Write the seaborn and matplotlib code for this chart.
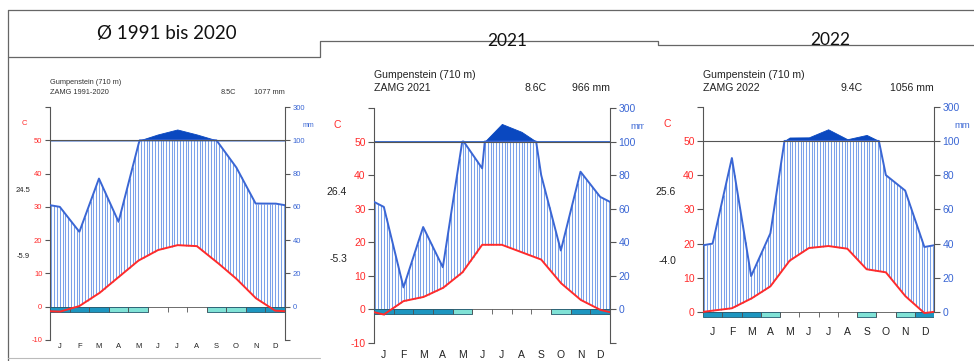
import numpy as np
import pandas as pd
import matplotlib
matplotlib.use("Agg")
import matplotlib.pyplot as plt
import matplotlib.transforms as mtransforms
from matplotlib.lines import Line2D
import seaborn as sns

# --- 設定 ---
OUTPUT_IMG = "out.png"
W, H = 974, 361

MONTHS = ["J", "F", "M", "A", "M", "J", "J", "A", "S", "O", "N", "D"]
MM_TICKS = [0, 20, 40, 60, 80, 100, 300]

STATION = "Gumpenstein (710 m)"
PANEL_TITLES = ["Ø 1991 bis 2020", "2021", "2022"]
SOURCES = ["ZAMG 1991-2020", "ZAMG 2021", "ZAMG 2022"]
MEAN_TEXT = ["8.5C", "8.6C", "9.4C"]
TOTAL_TEXT = ["1077 mm", "966 mm", "1056 mm"]
MAX_WARM = ["24.5", "26.4", "25.6"]
MIN_COLD = ["-5.9", "-5.3", "-4.0"]

# Monatsmittel Temperatur (C)
TEMP_NORM = [-1.5, 0.2, 4.0, 8.9, 13.8, 17.0, 18.5, 18.2, 13.5, 8.5, 2.6, -1.2]
TEMP_2021 = [-1.6, 2.4, 3.6, 6.3, 11.0, 19.2, 19.2, 17.0, 14.8, 7.8, 2.8, -0.2]
TEMP_2022 = [0.4, 1.1, 3.9, 7.5, 15.0, 18.7, 19.3, 18.5, 12.5, 11.6, 4.7, -0.3]

# Monatssummen Niederschlag (mm)
PREC_NORM = [60, 45, 77, 51, 97, 135, 165, 135, 100, 84, 62, 62]
PREC_2021 = [61, 13, 49, 25, 101, 84, 205, 158, 80, 35, 82, 67]
PREC_2022 = [40, 90, 21, 46, 120, 121, 168, 110, 135, 80, 71, 38]

# Frost: 2 = sicher, 1 = wahrscheinlich, 0 = kein Frost
FROST_NORM = [2, 2, 2, 1, 1, 0, 0, 0, 1, 1, 2, 2]
FROST_2021 = [2, 2, 2, 2, 1, 0, 0, 0, 0, 1, 2, 2]
FROST_2022 = [2, 2, 2, 1, 0, 0, 0, 0, 1, 0, 1, 2]

RED = "#ff2b2b"
BLUE = "#3a66d4"
HATCH = "#7ba2ea"
DARK = "#0a48c0"
FROST_COLORS = {0: (0, 0, 0, 0), 1: "#80e2d6", 2: "#1d96c0"}
GRAY = "#555555"


def fx(px):
    return px / W


def fy(py):
    return 1 - py / H


def scale_prec(p):
    # Walter-Lieth: 0-100 mm -> 0-50, darueber 1:20
    p = np.asarray(p, dtype=float)
    return np.where(p <= 100, p / 2, 50 + (p - 100) * 0.05)


def draw_panel(ax, temp, prec, frost, cfg):
    fs = cfg["fs"]
    ymin = cfg["ymin"]

    # Monatsmitten + Jahresumlauf (Dez vor Jan, Jan nach Dez)
    xm = np.arange(-0.5, 13.0)
    t = np.r_[temp[-1], temp, temp[0]]
    p = np.r_[prec[-1], prec, prec[0]]

    xs = np.linspace(0, 12, 721)
    ti = np.interp(xs, xm, t)
    pi = np.interp(xs, xm, p)
    p_line = np.minimum(pi / 2, 50)
    p_top = scale_prec(np.maximum(pi, 100))

    # humide Periode: senkrechte Schraffur
    xh = (np.arange(84) + 0.5) / 7
    th = np.interp(xh, xm, t)
    ph = np.minimum(np.interp(xh, xm, p) / 2, 50)
    m = ph > th
    ax.vlines(xh[m], th[m], ph[m], color=HATCH, lw=0.75, zorder=1)

    # > 100 mm: dunkle Flaeche
    ax.fill_between(xs, 50, p_top, color=DARK, lw=0.6, edgecolor=DARK, zorder=2)

    df = pd.DataFrame({"x": xs, "temp": ti, "prec": p_line})
    sns.lineplot(data=df, x="x", y="prec", ax=ax, color=BLUE, lw=1.4,
                 sort=False, estimator=None, zorder=3)

    ax.axhline(50, color=GRAY, lw=0.8, zorder=4)
    ax.axhline(0, color=GRAY, lw=0.6, zorder=1)

    # Frostbalken
    centres = np.arange(12) + 0.5
    colors = [FROST_COLORS[f] for f in frost]
    edges = ["#235a70" if f else (0, 0, 0, 0) for f in frost]
    ax.bar(centres, -1.5, bottom=0, width=1, color=colors, edgecolor=edges,
           linewidth=0.6, zorder=4)
    ax.vlines(np.arange(1, 12), -1.5, 0, color=GRAY, lw=0.6, zorder=4)

    sns.lineplot(data=df, x="x", y="temp", ax=ax, color=RED, lw=1.4,
                 sort=False, estimator=None, zorder=5)

    ax.set_xlim(0, 12)
    ax.set_ylim(ymin, 60)
    ax.set_xlabel("")
    ax.set_ylabel("")
    ax.set_xticks(centres)
    ax.set_xticklabels(MONTHS, fontsize=fs, color="#222222")
    ax.tick_params(axis="x", length=0, pad=cfg["xpad"])

    lo = 0 if ymin > -10 else -10
    left_ticks = list(range(lo, 51, 10))
    ax.set_yticks(left_ticks + [60])
    ax.set_yticklabels([str(v) for v in left_ticks] + [""], fontsize=fs, color=RED)
    ax.tick_params(axis="y", length=cfg["tl"], width=0.8, color=GRAY, pad=2)

    for s in ["top", "bottom", "right"]:
        ax.spines[s].set_visible(False)
    ax.spines["left"].set_bounds(lo, 60)
    ax.spines["left"].set_color(GRAY)

    tw = ax.twinx()
    tw.set_ylim(ymin, 60)
    pos = list(scale_prec(MM_TICKS))
    labels = [str(v) for v in MM_TICKS]
    if lo < 0:
        pos = [lo] + pos
        labels = [""] + labels
    tw.set_yticks(pos)
    tw.set_yticklabels(labels, fontsize=fs, color=BLUE)
    tw.tick_params(axis="y", length=cfg["tl"], width=0.8, color=GRAY, pad=2)
    for s in ["top", "bottom", "left"]:
        tw.spines[s].set_visible(False)
    tw.spines["right"].set_bounds(lo, 60)
    tw.spines["right"].set_color(GRAY)

    blend = mtransforms.blended_transform_factory(ax.transAxes, ax.transData)
    ax.text(cfg["ext_x"], 35, cfg["max"], transform=blend, ha="right", va="center",
            fontsize=fs, color="#222222")
    ax.text(cfg["ext_x"], 15, cfg["min"], transform=blend, ha="right", va="center",
            fontsize=fs, color="#222222")
    ax.text(cfg["c_x"], 55, "C", transform=blend, ha="center", va="center",
            fontsize=fs, color=RED)
    ax.text(cfg["mm_x"], 54.5, "mm", transform=blend, ha="center", va="center",
            fontsize=fs * 0.9, color=BLUE)


def main():
    sns.set_style("white")
    plt.rcParams["font.family"] = ["Liberation Sans", "DejaVu Sans"]

    fig = plt.figure(figsize=(W / 100, H / 100), dpi=100)

    temps = [TEMP_NORM, TEMP_2021, TEMP_2022]
    precs = [PREC_NORM, PREC_2021, PREC_2022]
    frosts = [FROST_NORM, FROST_2021, FROST_2022]

    configs = [
        {"rect": [fx(50), fy(340), fx(235), 233 / H], "ymin": -10, "fs": 5.5,
         "xpad": 2.5, "tl": 3.5, "ext_x": -0.085, "c_x": -0.11, "mm_x": 1.098,
         "head_y": (83, 93), "mean_x": 236, "right_x": 285, "head_fs": 5.3},
        {"rect": [fx(374), fy(342.7), fx(236), 234.7 / H], "ymin": -10, "fs": 7.5,
         "xpad": 5, "tl": 4, "ext_x": -0.114, "c_x": -0.157, "mm_x": 1.119,
         "head_y": (75, 88), "mean_x": 547, "right_x": 610, "head_fs": 7.6},
        {"rect": [fx(703), fy(326.4), fx(231), 219.7 / H], "ymin": -4.2, "fs": 7.5,
         "xpad": 0.5, "tl": 4, "ext_x": -0.117, "c_x": -0.156, "mm_x": 1.121,
         "head_y": (75, 88), "mean_x": 863, "right_x": 934, "head_fs": 7.6},
    ]

    for i, cfg in enumerate(configs):
        cfg["max"] = MAX_WARM[i]
        cfg["min"] = MIN_COLD[i]
        if i == 2:
            # Bildausschnitt 2022 liegt ueber dem Rand von 2021
            cover = fig.add_axes([fx(644), fy(340), fx(974 - 644), (340 - 47) / H])
            cover.set_facecolor("white")
            cover.set_xticks([])
            cover.set_yticks([])
            for s in cover.spines.values():
                s.set_visible(False)
        ax = fig.add_axes(cfg["rect"])
        ax.set_facecolor("white")
        draw_panel(ax, temps[i], precs[i], frosts[i], cfg)

        left = cfg["rect"][0] * W
        y1, y2 = cfg["head_y"]
        hc = "#333333" if i == 0 else "#222222"
        fig.text(fx(left), fy(y1), STATION, ha="left", va="center",
                 fontsize=cfg["head_fs"], color=hc)
        fig.text(fx(left), fy(y2), SOURCES[i], ha="left", va="center",
                 fontsize=cfg["head_fs"], color=hc)
        fig.text(fx(cfg["mean_x"]), fy(y2), MEAN_TEXT[i], ha="right", va="center",
                 fontsize=cfg["head_fs"], color=hc)
        fig.text(fx(cfg["right_x"]), fy(y2), TOTAL_TEXT[i], ha="right", va="center",
                 fontsize=cfg["head_fs"], color=hc)

    # Rahmen / Kopfzeilen
    def frame(xs, ys, color="#666666", lw=0.9):
        fig.add_artist(Line2D([fx(v) for v in xs], [fy(v) for v in ys],
                              color=color, lw=lw, zorder=10))

    frame([8, 974], [10, 10])
    frame([8, 8], [10, 361])
    frame([8, 320, 320, 658, 658, 974], [57, 57, 41, 41, 45, 45])
    frame([8, 320], [358, 358], color="#bbbbbb", lw=0.8)

    title_pos = [(167, 33), (507, 41), (830, 40)]
    title_fs = [13.5, 12.5, 12.5]
    for (tx, ty), title, tfs in zip(title_pos, PANEL_TITLES, title_fs):
        fig.text(fx(tx), fy(ty), title, ha="center", va="center", fontsize=tfs,
                 family=["Lato", "DejaVu Sans"], color="#111111", zorder=11)

    fig.savefig(OUTPUT_IMG, dpi=100, facecolor="white")


if __name__ == "__main__":
    main()
